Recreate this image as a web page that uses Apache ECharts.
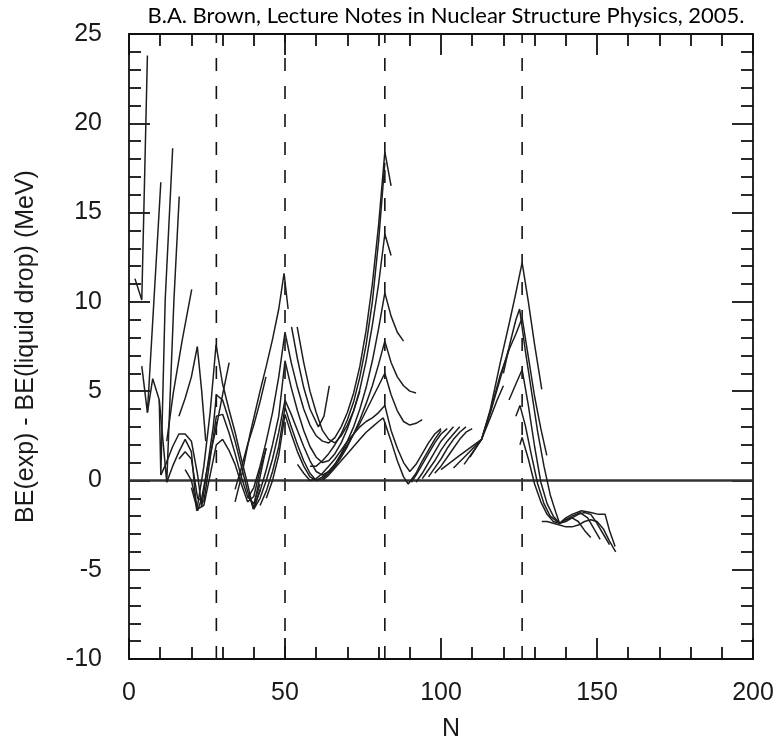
<!DOCTYPE html>
<html>
<head>
<meta charset="utf-8">
<title>BE(exp) - BE(liquid drop)</title>
<script src="https://cdn.jsdelivr.net/npm/echarts@6/dist/echarts.min.js"></script>
<style>
  html, body { margin: 0; padding: 0; background: #fff; }
  #main { width: 781px; height: 743px; }
</style>
</head>
<body>
<div id="main"></div>
<script>
// isotope chains, each point is [N, BE(exp) - BE(LD) in MeV]
var lightChains = [
  [[1.9, 11.3], [4.1, 10.1], [5.9, 23.8]],
  [[4.1, 6.4], [5.9, 3.8], [8.0, 10.1], [10.2, 16.7]],
  [[5.9, 3.8], [7.6, 5.7], [9.7, 4.5], [10.2, 0.3], [11.6, 10.1], [14.0, 18.6]],
  [[9.7, 4.5], [12.1, -0.1], [14.4, 10.1], [16.1, 15.9]],
  [[12.1, 2.2], [14.2, 4.9], [17.0, 7.8], [20.1, 10.7]],
  [[16.0, 3.6], [18.0, 4.6], [20.0, 5.8], [21.9, 7.5], [23.3, 5.0], [24.6, 2.2]]
]

var n28Chains = [
  [[12.1, -0.1], [14, 0.8], [16, 1.6], [18, 2.3], [20, 1.6], [21.7, -1.7], [24, 0.8], [26, 3.8], [27.9, 7.6], [30, 5.4], [32, 4.0], [34, 2.7], [36, 1.2], [38, -0.2], [39.8, -1.6], [42, 0.2], [43.9, 1.8]],
  [[10.2, 0.3], [12, 1.0], [14, 1.9], [16, 2.6], [18, 2.6], [20, 2.2], [22, 0.3], [23.3, -1.5], [25, 0.6], [27, 3.0], [28, 4.8], [30, 4.5], [32, 3.4], [34, 2.2], [36, 0.8], [38, -0.6], [40, -1.6], [42, -0.5]],
  [[16, 1.2], [18, 1.6], [20, 1.2], [22, -1.0], [24, -1.2], [26, 1.2], [28, 3.6], [30, 3.7], [32, 2.7], [34, 1.5], [36, 0.2], [38, -0.9], [40, -1.3], [42, -0.2]],
  [[18, 0.6], [20, 0.0], [22, -1.6], [24, -1.4], [26, 0.3], [28, 2.0], [30, 2.3], [32, 1.7], [34, 0.9], [36, -0.2], [38, -1.2], [40, -0.9], [42, 0.6], [44, 1.8]],
  [[20, -0.4], [22, -1.7], [23.3, -1.0], [25, 0.6], [28, 3.0], [30, 4.8], [32.1, 6.6]]
]

var n50Chains = [
  [[34, -1.2], [36, 0.2], [38.8, 2.6], [42, 5.0], [44, 6.4], [46, 7.9], [48, 9.6], [49.7, 11.6], [51, 9.6]],
  [[34, -0.5], [36, 0.7], [38, 2.0], [40, 3.1], [42, 4.4], [43.9, 5.8]],
  [[52.1, 8.6], [54, 6.8], [56, 5.2], [58, 4.0], [60.7, 3.0], [62.5, 3.6], [64.2, 5.3]],
  [[53.9, 8.6], [56, 6.6], [58, 5.0], [60, 3.8], [62, 2.8], [64, 2.3], [66, 2.1], [68, 2.5], [70, 3.1], [72, 3.9], [74, 5.0]]
]

var n82Chains = [
  [[38, -1.0], [40, -0.4], [42, 0.8], [44, 2.2], [46, 3.8], [48, 5.8], [50, 8.3], [52, 6.6], [54, 5.2], [56, 4.0], [58, 3.1], [60, 2.5], [62, 2.2], [64, 2.1], [66, 2.4], [68, 3.0], [70, 3.8], [72, 4.9], [74, 6.4], [76, 8.4], [78, 11.0], [80, 14.3], [82, 18.4], [84, 16.5]],
  [[58, 0.8], [60, 0.8], [62, 1.1], [64, 1.5], [66, 2.0], [68, 2.6], [70, 3.4], [72, 4.4], [74, 5.8], [76, 7.6], [78, 10.0], [80, 13.4], [82, 17.8]],
  [[40, -1.5], [42, -0.6], [44, 0.6], [46, 2.0], [48, 3.6], [50, 6.7], [52, 5.2], [54, 3.9], [56, 2.8], [58, 1.9], [60, 1.3], [62, 1.0], [64, 1.1], [66, 1.5], [68, 2.1], [70, 2.9], [72, 3.9], [74, 5.1], [76, 6.7], [78, 8.7], [80, 11.0], [82, 13.8], [84, 12.6]],
  [[40, -1.6], [42, -1.0], [44, 0.0], [46, 1.2], [48, 2.7], [50, 4.5], [52, 3.7], [54, 2.8], [56, 1.9], [58, 1.1], [60, 0.5], [62, 0.3], [64, 0.5], [66, 0.9], [68, 1.5], [70, 2.2], [72, 3.0], [74, 4.0], [76, 5.2], [78, 6.7], [80, 8.5], [82, 10.5], [84, 9.2], [86, 8.3], [88, 7.8]],
  [[42, -1.4], [44, -0.6], [46, 0.5], [48, 1.9], [50, 4.1], [52, 3.0], [54, 2.0], [56, 1.1], [58, 0.4], [60, 0.0], [62, 0.1], [64, 0.4], [66, 0.8], [68, 1.3], [70, 1.9], [72, 2.6], [74, 3.4], [76, 4.3], [78, 5.3], [80, 6.5], [82, 7.8], [84, 6.6], [86, 5.8], [88, 5.3], [90, 5.0], [92, 4.9]],
  [[44, -1.0], [46, 0.0], [48, 1.4], [50, 3.7], [52, 2.6], [54, 1.6], [56, 0.8], [58, 0.2], [60, 0.0], [62, 0.2], [64, 0.5], [66, 0.9], [68, 1.4], [70, 2.0], [72, 2.6], [74, 3.2], [76, 3.9], [78, 4.6], [80, 5.3], [82, 6.0], [84, 4.8], [86, 3.9], [88, 3.3], [90, 3.1], [92, 3.2], [94, 3.4]],
  [[54, 0.9], [56, 0.4], [58, 0.0], [60, 0.1], [62, 0.4], [64, 0.8], [66, 1.2], [68, 1.7], [70, 2.2], [72, 2.6], [74, 3.0], [76, 3.3], [78, 3.5], [80, 3.8], [82, 4.2], [84, 2.8], [86, 1.8], [88, 1.0], [90, 0.5], [92, 0.9], [94, 1.5], [96, 2.1], [98, 2.6], [100, 2.9]],
  [[62, 0.0], [64, 0.3], [66, 0.7], [68, 1.1], [70, 1.5], [72, 1.9], [74, 2.3], [76, 2.7], [78, 3.0], [80, 3.3], [81.5, 3.5], [84, 2.2], [86, 1.1], [88, 0.2], [89.5, -0.2], [92, 0.4], [94, 1.1], [96, 1.7], [98, 2.3], [100, 2.8]]
]

var combChains = [
  [[90.5, -0.1], [92, 0.3], [94, 0.9], [96, 1.5], [98, 2.1], [100, 2.6], [102, 2.9]],
  [[92, -0.1], [94, 0.4], [96, 1.0], [98, 1.6], [100, 2.2], [102, 2.6], [104, 3.0]],
  [[94, 0.1], [96, 0.6], [98, 1.1], [100, 1.7], [102, 2.2], [104, 2.6], [106, 3.0]],
  [[96, 0.2], [98, 0.7], [100, 1.2], [102, 1.8], [104, 2.3], [106, 2.7], [108, 3.0]],
  [[98, 0.4], [100, 0.8], [102, 1.3], [104, 1.8], [106, 2.3], [108, 2.7], [110, 2.9]]
]

var n126Chains = [
  [[100, 0.6], [106, 1.4], [113, 2.3], [115.7, 3.9], [119, 6.6], [122, 8.9], [124, 10.5], [126, 12.2], [128, 10.0], [130, 7.6], [132.3, 5.1]],
  [[104, 0.7], [108, 1.4], [113, 2.3], [116, 4.0], [119, 5.9], [122, 7.4], [124, 8.2], [126, 9.1], [128, 6.9], [130, 4.7], [132, 2.9], [133.9, 1.4]],
  [[107.4, 0.9], [113, 2.3], [116, 3.9], [119, 5.7], [121.6, 7.3]],
  [[109.3, 1.3], [113, 2.3], [116, 3.6], [118, 4.5], [120, 5.3]],
  [[120, 6.0], [122, 7.6], [124, 9.0], [125.2, 9.6], [127, 7.3], [129, 5.0], [131, 2.7], [133, 0.8], [135, -0.8], [137, -1.9], [138, -2.4], [140, -2.1], [142, -1.9], [145, -1.7], [148, -1.8], [150.5, -1.9], [152.6, -1.9], [154, -2.8], [155.8, -3.7]],
  [[121.8, 4.5], [124, 5.4], [126, 6.2], [128, 4.2], [130, 1.9], [132, -0.1], [134, -1.3], [136, -2.0], [138, -2.4], [140, -2.2], [142, -2.1], [144, -2.3], [146, -2.8], [148, -3.2]],
  [[124, 3.6], [125.3, 4.2], [127, 3.1], [129, 1.4], [131, -0.2], [133, -1.3], [135, -2.0], [138, -2.4], [140, -2.2], [142, -2.0], [144.6, -1.8], [147, -2.1], [149, -2.7], [151, -3.3]],
  [[125.3, 2.0], [126, 2.4], [128, 1.2], [130, -0.2], [132, -1.2], [134, -1.9], [136, -2.3], [138, -2.4], [140, -2.3], [142, -2.1], [144, -1.9], [146, -1.8], [148, -1.9], [150, -2.4], [152, -3.0], [154, -3.6]],
  [[132.3, -2.3], [134, -2.3], [136, -2.4], [138, -2.5], [140, -2.6], [142, -2.6], [144, -2.5], [146, -2.3], [148, -2.2], [150, -2.3], [152, -2.7], [154, -3.4], [156, -4.0]]
]

// magic numbers (dashed lines)
var magicN = [28, 50, 82, 126]

var xRange = [0, 200]
var yRange = [-10, 25]

var font = "'Liberation Sans', Arial, Helvetica, sans-serif"
var ink = '#111'

var chart = echarts.init(document.getElementById('main'))

var allChains = [].concat(lightChains, n28Chains, n50Chains, n82Chains, combChains, n126Chains)

var series = []
allChains.forEach(function (c) {
  series.push({
    type: 'line',
    data: c,
    symbol: 'none',
    silent: true,
    lineStyle: { color: '#1e1e1e', width: 1.5 },
    z: 3
  })
})
// dashed magic-number lines, drawn bottom to top
magicN.forEach(function (n) {
  series.push({
    type: 'line',
    data: [[n, yRange[0]], [n, yRange[1]]],
    symbol: 'none',
    silent: true,
    lineStyle: { color: ink, width: 1.6, type: [13, 15] },
    z: 2
  })
})
// zero line
series.push({
  type: 'line',
  data: [[xRange[0], 0], [xRange[1], 0]],
  symbol: 'none',
  silent: true,
  lineStyle: { color: '#333', width: 2.4 },
  z: 2
})

function xAx(pos, labels) {
  return {
    type: 'value',
    position: pos,
    min: xRange[0],
    max: xRange[1],
    interval: 50,
    axisLine: { show: true, onZero: false, lineStyle: { color: ink, width: 1.8 } },
    axisTick: { show: true, inside: true, length: 21, lineStyle: { color: ink, width: 1.8 } },
    minorTick: { show: true, splitNumber: 5, length: 12, lineStyle: { color: ink, width: 1.8 } },
    splitLine: { show: false },
    minorSplitLine: { show: false },
    axisLabel: { show: labels, fontSize: 25, fontFamily: font, color: '#1a1a1a', margin: 22 }
  }
}
function yAx(pos, labels) {
  return {
    type: 'value',
    position: pos,
    min: yRange[0],
    max: yRange[1],
    interval: 5,
    axisLine: { show: true, onZero: false, lineStyle: { color: ink, width: 1.8 } },
    axisTick: { show: true, inside: true, length: 21, lineStyle: { color: ink, width: 1.8 } },
    minorTick: { show: true, splitNumber: 5, length: 12, lineStyle: { color: ink, width: 1.8 } },
    splitLine: { show: false },
    minorSplitLine: { show: false },
    axisLabel: { show: labels, fontSize: 25, fontFamily: font, color: '#1a1a1a', margin: 27 }
  }
}

var xBottom = xAx('bottom', true)
xBottom.name = 'N'
xBottom.nameLocation = 'middle'
xBottom.nameGap = 58
xBottom.nameTextStyle = { fontSize: 25, fontFamily: font, color: '#1a1a1a', padding: [0, 0, 0, 20] }

var yLeft = yAx('left', true)
yLeft.name = 'BE(exp) - BE(liquid drop) (MeV)'
yLeft.nameLocation = 'middle'
yLeft.nameRotate = 90
yLeft.nameGap = 90
yLeft.nameTextStyle = { fontSize: 25, fontFamily: font, color: '#1a1a1a' }

chart.setOption({
  animation: false,
  backgroundColor: '#fff',
  title: {
    text: 'B.A. Brown, Lecture Notes in Nuclear Structure Physics, 2005.',
    left: 446,
    top: 5,
    padding: 0,
    textAlign: 'center',
    textStyle: { fontFamily: "Lato, 'Open Sans', sans-serif", fontSize: 22, fontWeight: 'normal', color: '#000' }
  },
  grid: { left: 129, top: 34, width: 624, height: 625, outerBoundsMode: 'none' },
  xAxis: [xBottom, xAx('top', false)],
  yAxis: [yLeft, yAx('right', false)],
  series: series
})
</script>
</body>
</html>
